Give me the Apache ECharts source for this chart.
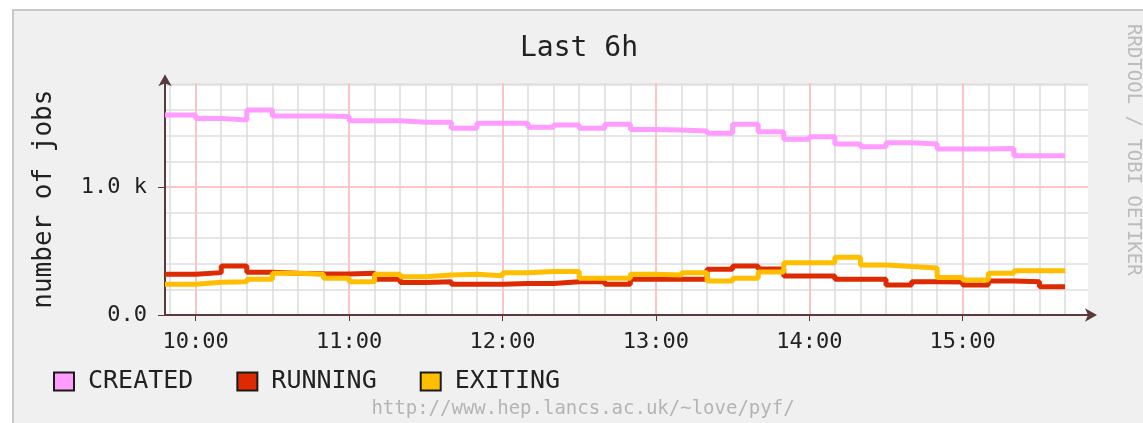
<!DOCTYPE html>
<html><head><meta charset="utf-8">
<script src="https://cdn.jsdelivr.net/npm/echarts@6/dist/echarts.min.js"></script>
<style>html,body{margin:0;padding:0;background:#fff}#c{width:1143px;height:423px}</style>
</head><body><div id="c"></div>
<script>
// 10-minute intervals (start times); first interval begins at the graph start
const intervalStarts = ['09:48',
  '10:00','10:10','10:20','10:30','10:40','10:50',
  '11:00','11:10','11:20','11:30','11:40','11:50',
  '12:00','12:10','12:20','12:30','12:40','12:50',
  '13:00','13:10','13:20','13:30','13:40','13:50',
  '14:00','14:10','14:20','14:30','14:40','14:50',
  '15:00','15:10','15:20','15:30'];
const lastSampleEnd = '15:40';
const created = [1562,1536,1523,1601,1555,1555,1550,1518,1518,1505,1505,1458,1497,1497,1466,1484,1458,1490,1450,1445,1437,1419,1490,1432,1372,1393,1336,1315,1346,1336,1297,1297,1300,1245,1245];
const running = [318,331,383,333,326,322,320,326,279,253,260,240,240,247,247,260,260,240,279,279,279,357,383,360,305,305,279,279,234,260,258,234,266,260,221];
const exiting = [240,255,260,279,326,318,287,260,318,299,312,318,306,331,339,339,287,287,318,312,331,266,287,335,409,409,451,391,378,368,292,273,326,346,346];
const seriesNames = ['CREATED','RUNNING','EXITING'];
const hourLabels = ['10:00','11:00','12:00','13:00','14:00','15:00'];
const minorGridTimes = ['09:50',
  '10:00','10:10','10:20','10:30','10:40','10:50',
  '11:00','11:10','11:20','11:30','11:40','11:50',
  '12:00','12:10','12:20','12:30','12:40','12:50',
  '13:00','13:10','13:20','13:30','13:40','13:50',
  '14:00','14:10','14:20','14:30','14:40','14:50',
  '15:00','15:10','15:20','15:30','15:40'];
const yMajorValues = [0, 1000];
const yMajorLabels = ['0.0', '1.0 k'];
const axisStart = '09:48', axisEnd = '15:49';

const toMin = s => { const [h, m] = s.split(':').map(Number); return h * 60 + m - 600; };
const minToLabel = v => { const t = v + 600; const h = Math.floor(t / 60), m = t % 60; return String(h).padStart(2,'0') + ':' + String(m).padStart(2,'0'); };
const stepData = vals => {
  const d = intervalStarts.map((t, i) => [toMin(t), vals[i]]);
  d.push([toMin(lastSampleEnd), vals[vals.length - 1]]);
  return d;
};
const MONO = 'DejaVu Sans Mono';
const AX = '#5a3a3a';
const hourVals = hourLabels.map(toMin);
const minorVals = minorGridTimes.map(toMin);
const xmin = toMin(axisStart), xmax = toMin(axisEnd);

const chart = echarts.init(document.getElementById('c'), null, {renderer: 'canvas'});
chart.setOption({
  animation: false,
  backgroundColor: '#f0f0f0',
  title: {text: 'Last 6h', left: 520, top: 35, padding: 0,
    textStyle: {fontFamily: MONO, fontSize: 28, fontWeight: 'normal', color: '#222'}},
  grid: {left: 165, top: 83.3, right: 55, bottom: 108, show: true, backgroundColor: '#fff', borderWidth: 0},
  legend: {left: 48, top: 364, icon: 'rect', itemWidth: 20, itemHeight: 18, itemGap: 43,
    itemStyle: {borderColor: '#1a1a1a', borderWidth: 2},
    textStyle: {fontFamily: MONO, fontSize: 25, color: '#222', padding: [0, 0, 0, 9]},
    data: seriesNames},
  xAxis: [
    {type: 'value', min: xmin, max: xmax, position: 'bottom', z: 1,
      axisLine: {show: true, onZero: false, lineStyle: {color: AX, width: 2}, symbol: ['none', 'arrow'], symbolSize: [10, 12], symbolOffset: [0, 9]},
      axisTick: {show: true, customValues: hourVals, length: 6, lineStyle: {color: AX, width: 1}},
      axisLabel: {customValues: hourVals, formatter: v => minToLabel(v), fontFamily: MONO, fontSize: 22, color: '#222', margin: 16},
      splitLine: {show: true, lineStyle: {color: '#ffbcbc', width: 1.5}}},
    {type: 'value', min: xmin, max: xmax, position: 'bottom', z: 0,
      axisLine: {show: false}, axisTick: {show: false, customValues: minorVals},
      axisLabel: {show: false, customValues: minorVals},
      splitLine: {show: true, lineStyle: {color: '#dedede', width: 1.6}}}
  ],
  yAxis: [
    {type: 'value', min: 0, max: 1810, position: 'left', z: 1,
      name: 'number of jobs', nameLocation: 'middle', nameGap: 108, nameRotate: 90,
      nameTextStyle: {fontFamily: MONO, fontSize: 26, color: '#222'},
      axisLine: {show: true, onZero: false, lineStyle: {color: AX, width: 2}, symbol: ['none', 'arrow'], symbolSize: [10, 12], symbolOffset: [0, 9]},
      axisTick: {show: true, customValues: yMajorValues, length: 7, lineStyle: {color: AX}},
      axisLabel: {customValues: yMajorValues, formatter: v => yMajorLabels[yMajorValues.indexOf(v)], fontFamily: MONO, fontSize: 22, color: '#222', margin: 18},
      splitLine: {show: true, lineStyle: {color: '#ffbcbc', width: 1.5}}},
    {type: 'value', min: 0, max: 1810, interval: 200, position: 'left', z: 0,
      axisLine: {show: false}, axisTick: {show: false}, axisLabel: {show: false},
      splitLine: {show: true, lineStyle: {color: '#dedede', width: 1.6}}}
  ],
  series: [
    {name: seriesNames[0], type: 'line', step: 'end', showSymbol: false, data: stepData(created), color: '#ff9cff', lineStyle: {width: 5, color: '#ff9cff'}, itemStyle: {color: '#ff9cff'}},
    {name: seriesNames[1], type: 'line', step: 'end', showSymbol: false, data: stepData(running), color: '#dd2a00', lineStyle: {width: 5, color: '#dd2a00'}, itemStyle: {color: '#dd2a00'}},
    {name: seriesNames[2], type: 'line', step: 'end', showSymbol: false, data: stepData(exiting), color: '#ffbf00', lineStyle: {width: 5, color: '#ffbf00'}, itemStyle: {color: '#ffbf00'}}
  ],
  graphic: [
    {type: 'rect', silent: true, shape: {x: 0, y: 0, width: 1143, height: 9}, style: {fill: '#fff'}},
    {type: 'rect', silent: true, shape: {x: 0, y: 0, width: 12, height: 423}, style: {fill: '#fff'}},
    {type: 'line', silent: true, shape: {x1: 12, y1: 10, x2: 1143, y2: 10}, style: {stroke: '#c8c8c8', lineWidth: 2}},
    {type: 'line', silent: true, shape: {x1: 13, y1: 9, x2: 13, y2: 423}, style: {stroke: '#c8c8c8', lineWidth: 2}},
    {type: 'text', silent: true, x: 583, y: 409, style: {text: 'http://www.hep.lancs.ac.uk/~love/pyf/', textAlign: 'center', textVerticalAlign: 'middle', font: '19px "DejaVu Sans Mono"', fill: '#b4b4b4'}},
    {type: 'text', silent: true, x: 1133, y: 24, rotation: -Math.PI / 2, style: {text: 'RRDTOOL / TOBI OETIKER', textAlign: 'left', textVerticalAlign: 'middle', font: '19px "DejaVu Sans Mono"', fill: '#bcbcbc'}}
  ]
});
</script></body></html>
